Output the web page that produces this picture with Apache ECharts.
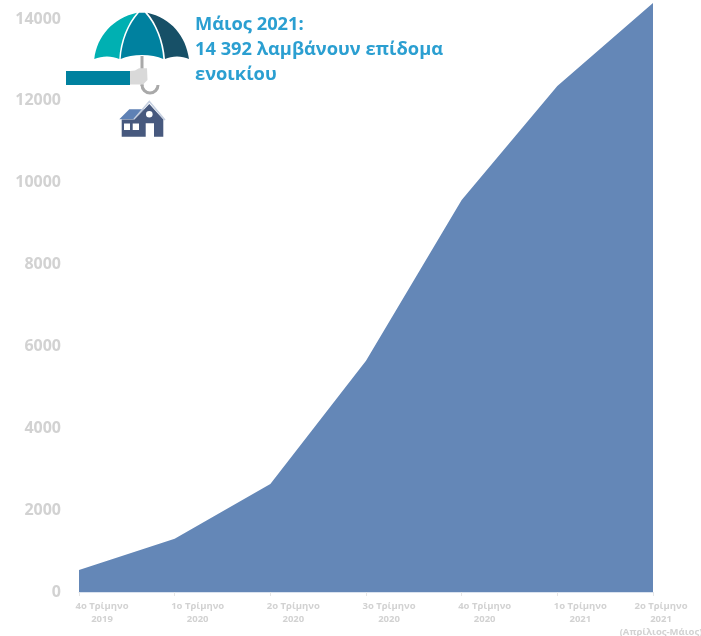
<!DOCTYPE html>
<html><head><meta charset="utf-8">
<style>html,body{margin:0;padding:0;background:#fff}#c{width:701px;height:636px}</style>
<script src="https://cdn.jsdelivr.net/npm/echarts@6/dist/echarts.min.js"></script>
</head><body><div id="c"></div>
<script>
const categories = ['4ο Τρίμηνο\n2019','1ο Τρίμηνο\n2020','2ο Τρίμηνο\n2020','3ο Τρίμηνο\n2020','4ο Τρίμηνο\n2020','1ο Τρίμηνο\n2021','2ο Τρίμηνο\n2021\n(Απρίλιος-Μάιος)'];
const beneficiaries = [540,1300,2640,5650,9580,12360,14392];
const calloutLines = ['Μάιος 2021:','14 392 λαμβάνουν επίδομα','ενοικίου'];
const labelShift = [46,46,46,46,46,46,16];
const chart = echarts.init(document.getElementById('c'),null,{renderer:'canvas'});
const fam = '"Open Sans","Noto Sans",sans-serif';
let pid = 0;
function icon(d, style){
  const name = 'iconPath' + (pid++);
  echarts.graphic.registerShape(name, echarts.graphic.extendPath(d, {}));
  return {type:name, style:style, silent:true};
}
chart.setOption({
 animation:false,
 grid:{left:79,right:48,top:2.6,bottom:44,containLabel:false,outerBoundsMode:'none'},
 xAxis:{type:'category',boundaryGap:false,
  data:categories.map((c,i)=>({value:c,textStyle:{padding:[0,0,0,labelShift[i]]}})),
  axisLine:{lineStyle:{color:'#d9e2ef',width:1}},
  axisTick:{show:true,length:4,lineStyle:{color:'#e6e6e6'}},
  axisLabel:{interval:0,color:'#d2d2d2',fontFamily:fam,fontWeight:'bold',fontSize:9.5,lineHeight:13,margin:8,hideOverlap:false},
  splitLine:{show:false}},
 yAxis:{type:'value',min:0,max:14400,interval:2000,
  axisLine:{show:false},axisTick:{show:false},splitLine:{show:false},
  axisLabel:{showMaxLabel:false,color:'#d2d2d2',fontFamily:fam,fontWeight:'bold',fontSize:16,margin:18,padding:[2,0,0,0],formatter:v=>String(v)}},
 series:[{type:'line',data:beneficiaries,symbol:'none',smooth:false,
  lineStyle:{width:0},areaStyle:{color:'#6487b7',opacity:1}}],
 graphic:[
  {type:'text',left:195,top:12,style:{text:calloutLines.join('\n'),fill:'#2b9fd1',font:'bold 18.3px '+fam,lineHeight:25}},
  {type:'rect',silent:true,shape:{x:140.5,y:56,width:3,height:30},style:{fill:'#a9a9a9'}},
  {type:'arc',silent:true,shape:{cx:150,cy:85,r:8,startAngle:0,endAngle:Math.PI},style:{stroke:'#a9a9a9',lineWidth:3,fill:null}},
  icon('M94.3 59 C97 36 113 18 137 12.7 C127 24 120 42 119.3 59 C112 55.5 102 55.5 94.3 59Z',{fill:'#00b0b2'}),
  icon('M120.7 59 C122 40 129 24 139 12.7 L145 12.7 C155 24 162 40 163.3 59 C152 53.5 132 53.5 120.7 59Z',{fill:'#00819f'}),
  icon('M147.3 12.7 C171 18 186 36 189 59 C182 55.5 172 55.5 165 59 C164 42 157 24 147.3 12.7Z',{fill:'#175067'}),
  {type:'rect',silent:true,shape:{x:66,y:71,width:64,height:14},style:{fill:'#00819f'}},
  icon('M130 71 L135 70.5 L139 68.3 L147 68.3 L147.5 80 L143 84.5 L130 84.5Z',{fill:'#d9d9d9'}),
  icon('M119.3 119.3 L129.3 109.3 L144 109.3 L134 119.3Z',{fill:'#5e81b5'}),
  icon('M134 119.3 L149.3 101.5 L165 120',{stroke:'#c5cfe0',lineWidth:1.5,fill:'none'}),
  icon('M121.7 119.5 L134.5 119.5 L149.3 104 L163.3 119.5 L163.3 136.7 L154 136.7 L154 123.3 L145.7 123.3 L145.7 136.7 L121.7 136.7Z',{fill:'#47597e'}),
  {type:'rect',silent:true,shape:{x:124,y:123.5,width:6,height:6.5},style:{fill:'#fff'}},
  {type:'rect',silent:true,shape:{x:132.7,y:123.5,width:6.3,height:6.5},style:{fill:'#fff'}},
  {type:'circle',silent:true,shape:{cx:149.3,cy:114.3,r:3.3},style:{fill:'#fff'}}
 ]
});
</script></body></html>
